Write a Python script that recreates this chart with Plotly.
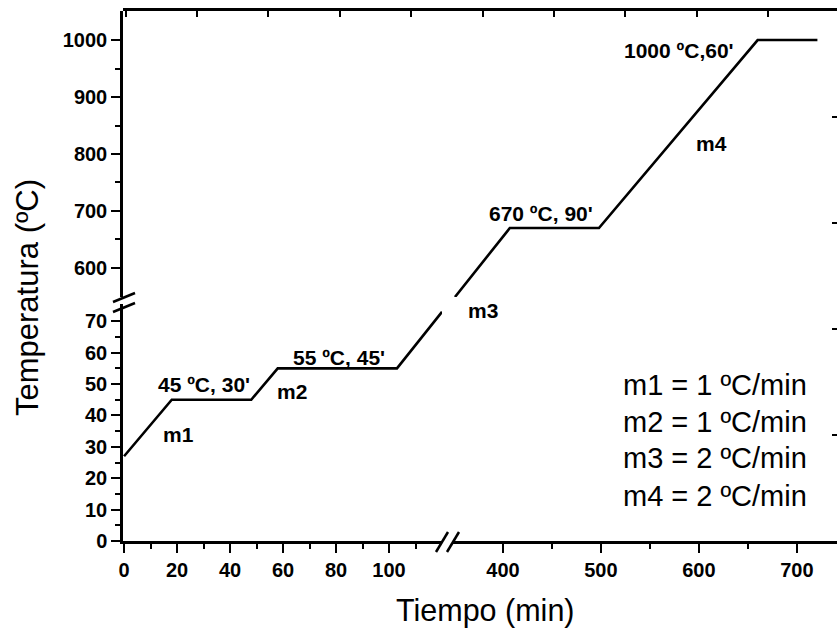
import plotly.graph_objects as go

# ---- data ----
# low-temperature part (left / bottom panel)
time_low = [0, 18, 48, 58, 103, 120]
temp_low = [27, 45, 45, 55, 55, 73]
# high-temperature part (right / top panel)
time_high = [351, 407, 498, 660, 721]
temp_high = [549, 670, 670, 1000, 1000]

x_low_ticks = [0, 20, 40, 60, 80, 100]
x_low_minor = [10, 30, 50, 70, 90, 110]
x_high_ticks = [400, 500, 600, 700]
x_high_minor = [450, 550, 650]
y_low_ticks = [0, 10, 20, 30, 40, 50, 60, 70]
y_low_minor = [5, 15, 25, 35, 45, 55, 65]
y_high_ticks = [600, 700, 800, 900, 1000]
y_high_minor = [650, 750, 850, 950]

segment_labels_low = [("45 ºC, 30'", 30, 50), ("m1", 20.4, 34), ("m2", 63.4, 47.5), ("55 ºC, 45'", 81, 58.6)]
segment_labels_high = [("670 ºC, 90'", 439, 696), ("1000 ºC,60'", 580, 982), ("m4", 613, 819)]
rate_lines = ["m1 = 1 ºC/min", "m2 = 1 ºC/min", "m3 = 2 ºC/min", "m4 = 2 ºC/min"]

FONT = "Liberation Sans, Arial, sans-serif"
W, H = 837, 635
L, R, T, B = 123, 0, 11, 94
PW, PH = W - L - R, H - T - B


def px(xp):
    return (xp - L) / PW


def py(yp):
    return (H - B - yp) / PH


line_style = dict(color="black", width=2.6)

fig = go.Figure()
fig.add_trace(go.Scatter(x=time_low, y=temp_low, xaxis="x", yaxis="y", mode="lines",
                         line=line_style, showlegend=False, hoverinfo="skip"))
fig.add_trace(go.Scatter(x=time_high, y=temp_high, xaxis="x2", yaxis="y2", mode="lines",
                         line=line_style, showlegend=False, hoverinfo="skip"))
# empty trace so that the frame axes (top / right) get drawn
fig.add_trace(go.Scatter(x=[], y=[], xaxis="x3", yaxis="y3", mode="lines",
                         showlegend=False, hoverinfo="skip"))

tickfont = dict(family=FONT, size=20, color="black", weight="bold")
common = dict(showline=True, linecolor="black", linewidth=2.5, ticks="outside", ticklen=9,
              tickwidth=2, tickcolor="black", showgrid=False, zeroline=False,
              tickfont=tickfont, tickmode="array", automargin=False)


def minor(vals):
    return dict(tickmode="array", tickvals=vals, ticks="outside", ticklen=5, tickwidth=2,
                tickcolor="black", showgrid=False)


fig.update_layout(
    width=W, height=H,
    margin=dict(l=L, r=R, t=T, b=B, pad=0, autoexpand=False),
    paper_bgcolor="white", plot_bgcolor="rgba(0,0,0,0)",
    showlegend=False,
    xaxis=dict(domain=[0, px(442)], range=[-0.4, 120], anchor="y",
               tickvals=x_low_ticks, minor=minor(x_low_minor), **common),
    xaxis2=dict(domain=[px(453), 1], range=[349, 741], anchor="y",
                tickvals=x_high_ticks, minor=minor(x_high_minor), **common),
    yaxis=dict(domain=[0, py(304)], range=[0, 75.5], anchor="x",
               tickvals=y_low_ticks, minor=minor(y_low_minor), **common),
    yaxis2=dict(domain=[py(297), 1], range=[549, 1051], anchor="x",
                tickvals=y_high_ticks, minor=minor(y_high_minor), **common),
    # frame (top / right) with its own inside ticks
    xaxis3=dict(domain=[0, 1], range=[-0.035, 9.965], anchor="y3", side="top",
                showline=True, linecolor="black", linewidth=2.5, ticks="inside",
                ticklen=6, tickwidth=2, tickcolor="black", dtick=1, tick0=0,
                showticklabels=False, showgrid=False, zeroline=False, automargin=False),
    yaxis3=dict(domain=[0, 1], range=[0, 5], anchor="x3", side="right",
                showline=False, ticks="inside", ticklen=5, tickwidth=2,
                tickcolor="black", dtick=1, tick0=0, showticklabels=False,
                showgrid=False, zeroline=False, automargin=False),
)

ann = []
bold_ann = dict(family=FONT, size=21, color="black", weight="bold")
for txt, xv, yv in segment_labels_low:
    ann.append(dict(text=txt, x=xv, y=yv, xref="x", yref="y", showarrow=False,
                    xanchor="center", yanchor="middle", font=bold_ann))
for txt, xv, yv in segment_labels_high:
    ann.append(dict(text=txt, x=xv, y=yv, xref="x2", yref="y2", showarrow=False,
                    xanchor="center", yanchor="middle", font=bold_ann))
ann.append(dict(text="m3", x=px(483), y=py(310), xref="paper", yref="paper",
                xanchor="center", yanchor="middle", showarrow=False, font=bold_ann))

rate_y = [385, 422, 458, 496]
for txt, yp in zip(rate_lines, rate_y):
    ann.append(dict(text=txt, x=px(621), y=py(yp), xref="paper", yref="paper",
                    xanchor="left", yanchor="middle", showarrow=False,
                    font=dict(family=FONT, size=29, color="black")))

ann.append(dict(text="Temperatura (ºC)", x=px(27), y=py(298), xref="paper", yref="paper",
                xanchor="center", yanchor="middle",
                textangle=-90, showarrow=False, font=dict(family=FONT, size=31, color="black")))
ann.append(dict(text="Tiempo (min)", x=px(485), y=py(610), xref="paper", yref="paper",
                xanchor="center", yanchor="middle",
                showarrow=False, font=dict(family=FONT, size=30.5, color="black")))
fig.update_layout(annotations=ann)

# axis-break marks
breaks = [((113, 302), (135, 293)), ((113, 312), (135, 303)),
          ((436, 552), (448, 532)), ((447, 552), (459, 532))]
shapes = []
for (x0, y0), (x1, y1) in breaks:
    shapes.append(dict(type="line", xref="paper", yref="paper", x0=px(x0), y0=py(y0),
                       x1=px(x1), y1=py(y1), line=dict(color="black", width=2.5)))
fig.update_layout(shapes=shapes)

fig.write_html(
    "out.html",
    config={"displayModeBar": False},
    post_script="document.body.style.margin='0';document.body.style.overflow='hidden';",
)
